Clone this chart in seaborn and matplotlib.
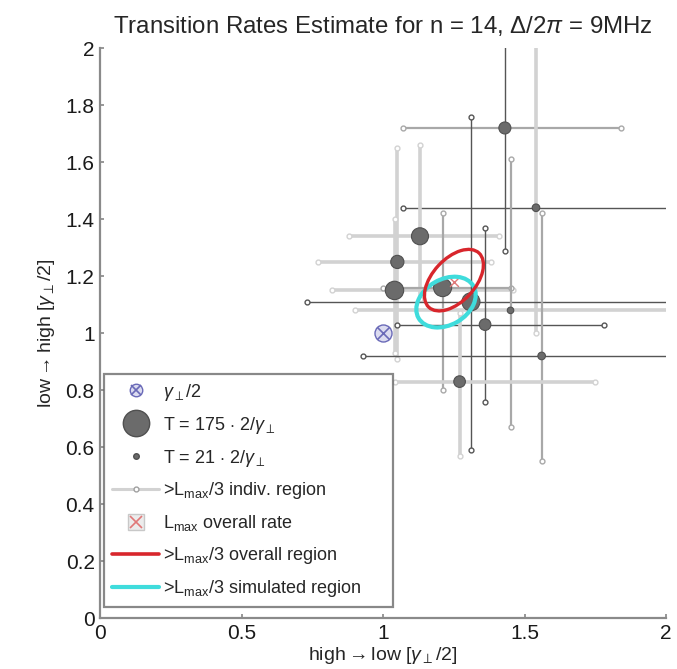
import numpy as np
import pandas as pd
import matplotlib.pyplot as plt
import seaborn as sns
from matplotlib.lines import Line2D
from matplotlib.patches import Ellipse

# ---- data ----
pt_x = [1.43, 1.54, 1.13, 1.05, 1.04, 1.21, 1.31, 1.45, 1.36, 1.56, 1.27]
pt_y = [1.72, 1.44, 1.34, 1.25, 1.15, 1.16, 1.11, 1.08, 1.03, 0.92, 0.83]
pt_T = [75, 30, 150, 90, 175, 170, 170, 22, 70, 30, 70]

# >Lmax/3 individual regions (horizontal / vertical extents)
x_lo = [1.07, 1.07, 0.88, 0.77, 0.82, 1.00, 0.73, 0.90, 1.05, 0.93, 1.04]
x_hi = [1.84, 2.10, 1.41, 1.38, 1.46, 1.45, 2.10, 2.10, 1.78, 2.10, 1.75]
y_lo = [1.29, 1.00, 1.12, 0.91, 0.93, 0.80, 0.59, 0.67, 0.76, 0.55, 0.57]
y_hi = [2.10, 2.10, 1.66, 1.65, 1.40, 1.42, 1.76, 1.61, 1.37, 1.42, 1.07]

# gamma_perp / 2 reference point
ref_x = [1.0]
ref_y = [1.0]

# overall maximum likelihood rate
lmax_x = [1.25]
lmax_y = [1.18]

# overall region (red) and simulated region (cyan): centre, semi axes, angle
overall_c = (1.25, 1.186)
overall_ax = (0.13, 0.075)
overall_ang = 47
sim_c = (1.222, 1.109)
sim_ax = (0.112, 0.08)
sim_ang = 30

df = pd.DataFrame({'x': pt_x, 'y': pt_y, 'T': pt_T})

# line look for each individual region
h_look = ['mid', 'dark', 'light', 'light', 'light', 'mid', 'dark', 'light', 'dark', 'dark', 'light']
v_look = ['dark', 'light', 'light', 'light', 'light', 'mid', 'dark', 'mid', 'dark', 'mid', 'light']
looks = {'light': ('#d2d2d2', 2.6), 'mid': ('#a8a8a8', 1.6), 'dark': ('#555555', 1.0)}

sns.set_theme(style='ticks')
plt.rcParams['font.family'] = ['Liberation Sans', 'DejaVu Sans']
plt.rcParams['mathtext.fontset'] = 'custom'
plt.rcParams['mathtext.rm'] = 'Liberation Sans'
plt.rcParams['mathtext.it'] = 'Liberation Sans:italic'
plt.rcParams['mathtext.bf'] = 'Liberation Sans:bold'

fig = plt.figure(figsize=(6.77, 6.69), dpi=100)
ax = fig.add_axes([0.148, 0.076, 0.836, 0.852])

end_kw = dict(marker='o', ms=3.5, mfc='white', markevery=[0, 1], zorder=2)
for i in range(len(pt_x)):
    c, lw = looks[h_look[i]]
    ax.plot([x_lo[i], x_hi[i]], [pt_y[i], pt_y[i]], color=c, lw=lw, mec=c, **end_kw)
    c, lw = looks[v_look[i]]
    ax.plot([pt_x[i], pt_x[i]], [y_lo[i], y_hi[i]], color=c, lw=lw, mec=c, **end_kw)

sns.scatterplot(data=df, x='x', y='y', size='T', sizes=(0, 175), size_norm=(0, 175),
                color='#6b6b6b', edgecolor='#505050', linewidth=0.8, legend=False,
                zorder=3, ax=ax)

# gamma_perp/2 marker
ax.scatter(ref_x, ref_y, s=150, marker='o', facecolor='#dcdcf0', edgecolor='#6a6ab8',
           linewidth=1.0, zorder=3)
ax.scatter(ref_x, ref_y, s=80, marker='x', color='#6a6ab8', linewidth=1.2, zorder=3)

# overall max
ax.scatter(lmax_x, lmax_y, s=40, marker='x', color='#e07878', linewidth=1.0, zorder=4)

ax.add_patch(Ellipse(overall_c, 2 * overall_ax[0], 2 * overall_ax[1], angle=overall_ang,
                     fill=False, edgecolor='#d8262c', lw=2.4, zorder=5))
ax.add_patch(Ellipse(sim_c, 2 * sim_ax[0], 2 * sim_ax[1], angle=sim_ang,
                     fill=False, edgecolor='#3fdcdc', lw=3.0, zorder=4))

ax.set_xlim(0, 2)
ax.set_ylim(0, 2)
ax.set_xticks([0, 0.5, 1, 1.5, 2])
ax.set_xticklabels(['0', '0.5', '1', '1.5', '2'])
ax.set_yticks([0, 0.2, 0.4, 0.6, 0.8, 1, 1.2, 1.4, 1.6, 1.8, 2])
ax.set_yticklabels(['0', '0.2', '0.4', '0.6', '0.8', '1', '1.2', '1.4', '1.6', '1.8', '2'])
ax.tick_params(direction='in', length=3, labelsize=15, colors='#8a8a8a', labelcolor='#1a1a1a', pad=4)
sns.despine(ax=ax)
for s in ['left', 'bottom']:
    ax.spines[s].set_color('#8a8a8a')
    ax.spines[s].set_linewidth(1.6)

ax.set_xlabel(r'high$\rightarrow$low [$\gamma_{\perp}$/2]', fontsize=14, labelpad=2)
ax.set_ylabel(r'low$\rightarrow$high [$\gamma_{\perp}$/2]', fontsize=14, labelpad=6)
ax.set_title(r'Transition Rates Estimate for n = 14, $\Delta$/2$\pi$ = 9MHz', fontsize=17.3, pad=11)

handles = [
    (Line2D([], [], ls='', marker='o', ms=9, mfc='#dcdcf0', mec='#6a6ab8'),
     Line2D([], [], ls='', marker='x', ms=7, mec='#6a6ab8', mew=1.2)),
    Line2D([], [], ls='', marker='o', ms=19, mfc='#6b6b6b', mec='#505050'),
    Line2D([], [], ls='', marker='o', ms=4, mfc='#6b6b6b', mec='#505050'),
    Line2D([], [], color='#d2d2d2', lw=2.2, marker='o', ms=3.5, mfc='white', mec='#a0a0a0'),
    (Line2D([], [], ls='', marker='s', ms=12, mfc='#ececec', mec='#c8c8c8'),
     Line2D([], [], ls='', marker='x', ms=8, mec='#e07878', mew=1.2)),
    Line2D([], [], color='#d8262c', lw=2.6),
    Line2D([], [], color='#3fdcdc', lw=3.0),
]
labels = [
    r'$\gamma_{\perp}$/2',
    r'T = 175 $\cdot$ 2/$\gamma_{\perp}$',
    r'T = 21 $\cdot$ 2/$\gamma_{\perp}$',
    r'>L$_{\mathrm{max}}$/3 indiv. region',
    r'L$_{\mathrm{max}}$ overall rate',
    r'>L$_{\mathrm{max}}$/3 overall region',
    r'>L$_{\mathrm{max}}$/3 simulated region',
]
leg = ax.legend(handles, labels, loc='lower left', bbox_to_anchor=(0.007, 0.019, 0.511, 0.4),
                mode='expand', fontsize=13, frameon=True, fancybox=False, edgecolor='#6a6a6a',
                handlelength=2.6, handletextpad=0.2, labelspacing=0.66, borderpad=0.45,
                numpoints=1, borderaxespad=0)
leg.get_frame().set_linewidth(1.6)

fig.savefig('out.png', dpi=100)
